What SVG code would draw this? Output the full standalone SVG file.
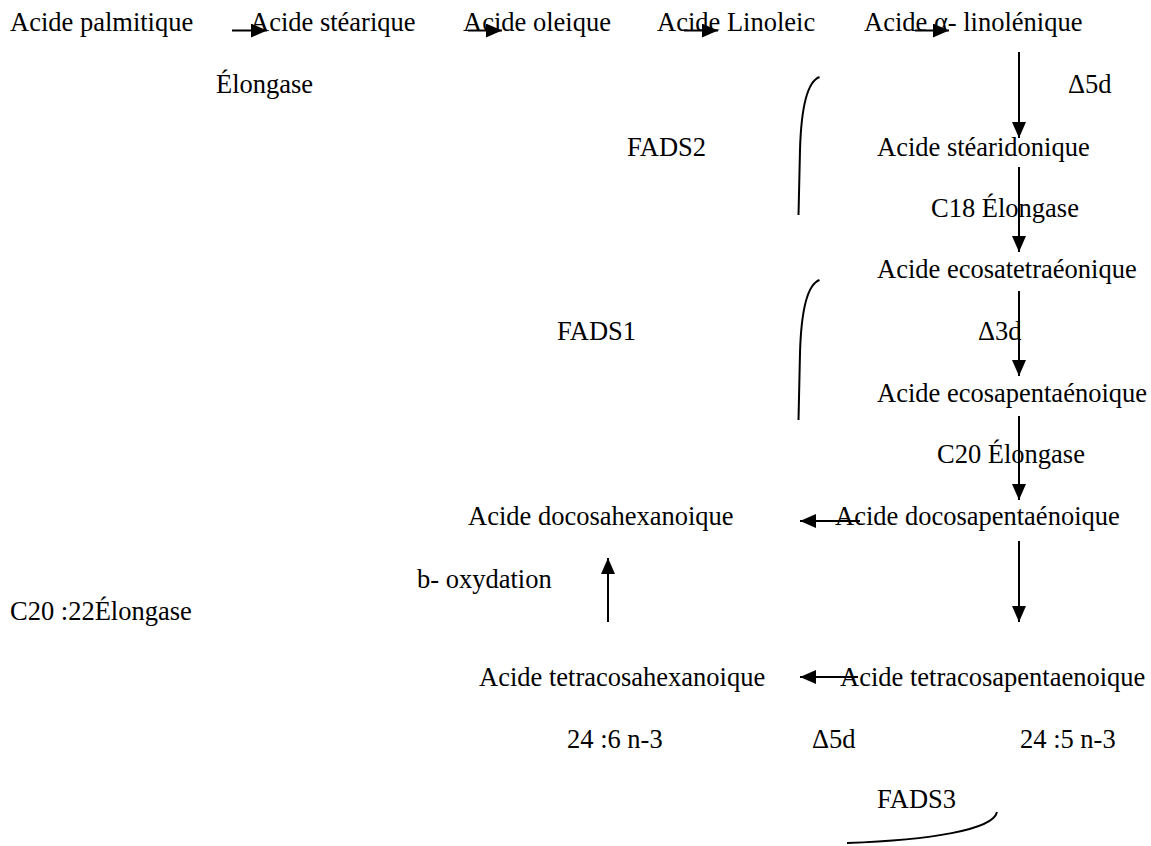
<svg xmlns="http://www.w3.org/2000/svg" width="1151" height="846" viewBox="0 0 1151 846">
<style>
text{font-family:"Liberation Serif","Times New Roman",serif;font-size:26.5px;fill:#000}
.c{fill:none;stroke:#000;stroke-width:2}
.a{stroke:#000;stroke-width:2;fill:none;marker-end:url(#ah)}
</style>
<defs>
<marker id="ah" markerUnits="userSpaceOnUse" markerWidth="18" markerHeight="16" refX="16" refY="7" orient="auto">
<path d="M0,0 L16,7 L0,14 z" fill="#000"/>
</marker>
</defs>
<rect width="1151" height="846" fill="#fff"/>
<g id="connectors">
<line class="a" x1="232" y1="30.5" x2="267" y2="30.5"/>
<line class="a" x1="468" y1="30.5" x2="502" y2="30.5"/>
<line class="a" x1="684" y1="30.5" x2="718" y2="30.5"/>
<line class="a" x1="915" y1="30.5" x2="949" y2="30.5"/>
<line class="a" x1="1019" y1="52" x2="1019" y2="138"/>
<line class="a" x1="1019" y1="167" x2="1019" y2="252"/>
<line class="a" x1="1019" y1="291" x2="1019" y2="376"/>
<line class="a" x1="1019" y1="416" x2="1019" y2="500"/>
<line class="a" x1="1019" y1="541" x2="1019" y2="622"/>
<line class="a" x1="860" y1="521" x2="800" y2="521"/>
<line class="a" x1="858" y1="677" x2="800" y2="677"/>
<line class="a" x1="608" y1="622" x2="608" y2="558"/>
<path class="c" d="M819.5,77 C806,82 801,115 800,150 L798.5,215"/>
<path class="c" d="M819.5,280 C806,285 801,318 800,353 L798.5,420"/>
<path class="c" d="M997,812 C993,830 930,840 847,843"/>
</g>
<g id="n-palmitique"><text x="10" y="31">Acide palmitique</text></g>
<g id="n-stearique"><text x="250" y="31">Acide stéarique</text></g>
<g id="n-oleique"><text x="463" y="31">Acide oleique</text></g>
<g id="n-linoleic"><text x="657" y="31">Acide Linoleic</text></g>
<g id="n-alinolenique"><text x="864" y="31">Acide α- linolénique</text></g>
<g id="l-elongase"><text x="216" y="93">Élongase</text></g>
<g id="l-d5d-top"><text x="1068" y="93">Δ5d</text></g>
<g id="l-fads2"><text x="627" y="156">FADS2</text></g>
<g id="n-stearidonique"><text x="877" y="156">Acide stéaridonique</text></g>
<g id="l-c18"><text x="931" y="217">C18 Élongase</text></g>
<g id="n-ecosatetra"><text x="877" y="278">Acide ecosatetraéonique</text></g>
<g id="l-fads1"><text x="557" y="340">FADS1</text></g>
<g id="l-d3d"><text x="978" y="340">Δ3d</text></g>
<g id="n-ecosapenta"><text x="877" y="402">Acide ecosapentaénoique</text></g>
<g id="l-c20"><text x="937" y="463">C20 Élongase</text></g>
<g id="n-docosahexa"><text x="468" y="525">Acide docosahexanoique</text></g>
<g id="n-docosapenta"><text x="835" y="525">Acide docosapentaénoique</text></g>
<g id="l-boxy"><text x="417" y="588">b- oxydation</text></g>
<g id="l-c2022"><text x="10" y="620">C20 :22Élongase</text></g>
<g id="n-tetrahexa"><text x="479" y="686">Acide tetracosahexanoique</text></g>
<g id="n-tetrapenta"><text x="840" y="686">Acide tetracosapentaenoique</text></g>
<g id="l-246"><text x="567" y="748">24 :6 n-3</text></g>
<g id="l-d5d-bottom"><text x="812" y="748">Δ5d</text></g>
<g id="l-245"><text x="1020" y="748">24 :5 n-3</text></g>
<g id="l-fads3"><text x="877" y="808">FADS3</text></g>
</svg>
